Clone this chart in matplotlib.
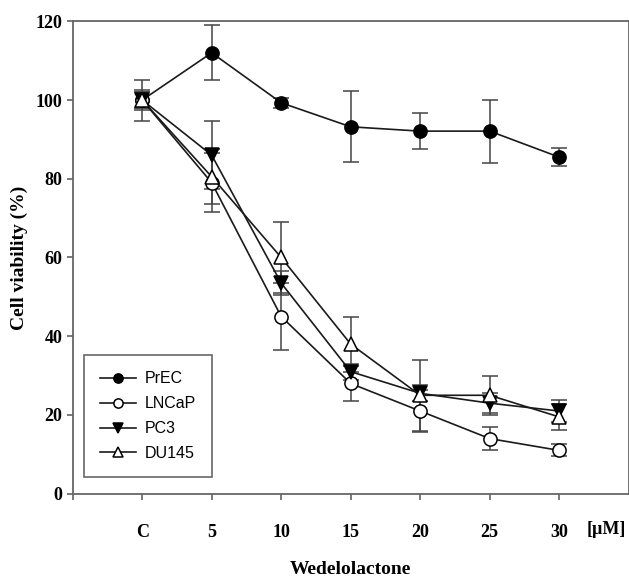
import numpy as np
import matplotlib
matplotlib.use("Agg")
import matplotlib.pyplot as plt
import matplotlib.transforms as mtransforms

# doses (C = control), values in % viability, with +/- error
doses = ["C", "5", "10", "15", "20", "25", "30"]
prec = [100, 112, 99.3, 93.2, 92.1, 92.1, 85.5]
prec_err = [5.2, 7.0, 1.2, 9.0, 4.6, 8.0, 2.3]
lncap = [100, 79, 45, 28, 21, 14, 11]
lncap_err = [2.5, 7.5, 8.5, 4.5, 5.3, 3.0, 1.5]
pc3 = [100, 86, 53.5, 31, 25.5, 23, 21]
pc3_err = [2.0, 8.6, 3.0, 2.0, 2.0, 2.5, 2.7]
du145 = [100, 80.5, 60, 38, 25, 25, 19.5]
du145_err = [2.0, 7.0, 9.0, 7.0, 9.0, 5.0, 3.2]

series = [("PrEC", prec, prec_err, "o", "black"),
          ("LNCaP", lncap, lncap_err, "o", "white"),
          ("PC3", pc3, pc3_err, "v", "black"),
          ("DU145", du145, du145_err, "^", "white")]

serif = ["Liberation Serif", "DejaVu Serif"]
W, H = 629, 578
fig = plt.figure(figsize=(W / 100, H / 100), dpi=100)
ax = fig.add_axes([72.7 / W, 1 - 493.7 / H, 556 / W, 472.4 / H])

x = np.arange(1, len(doses) + 1)
for lab, y, e, m, fc in series:
    ax.errorbar(x, y, yerr=e, fmt="none", ecolor="#444444", elinewidth=1.1,
                capsize=6, capthick=1.1, zorder=2)
    ax.plot(x, y, color="#1a1a1a", lw=1.2, marker=m, ms=9.5, mfc=fc,
            mec="black", mew=1.1, label=lab, zorder=3)

ax.set_xlim(0, 8)
ax.set_ylim(0, 120)
ax.set_xticks(np.arange(0, 8))
ax.set_xticklabels([""] + doses, family=serif, weight="bold", fontsize=13)
ax.set_yticks(np.arange(0, 121, 20))
ax.set_yticklabels([str(v) for v in range(0, 121, 20)], family=serif,
                   weight="bold", fontsize=13)
ax.tick_params(axis="x", direction="out", length=4.5, width=1.1,
               color="#555555", pad=17)
ax.tick_params(axis="y", direction="out", length=4.5, width=1.1,
               color="#555555", pad=3)
ax.tick_params(top=False, right=False)
for s in ax.spines.values():
    s.set_color("#666666")
    s.set_linewidth(1.3)

ax.set_ylabel("Cell viability (%)", family=serif, weight="bold", fontsize=14,
              labelpad=5)
ax.set_xlabel("Wedelolactone", family=serif, weight="bold", fontsize=14,
              va="center")
ax.xaxis.set_label_coords(0.5, (493.7 - 570) / 472.4)

tr = mtransforms.blended_transform_factory(ax.transData, fig.transFigure)
ax.text(7.68, 1 - 530 / H, "[\u00b5M]", transform=tr, ha="center",
        va="center", family=serif, weight="bold", fontsize=13)

leg = ax.legend(loc="lower left", bbox_to_anchor=(11.3 / 556, 16.7 / 472.4),
                borderaxespad=0,
                prop={"family": "Liberation Sans", "size": 11.5},
                markerscale=0.7, handlelength=2.25, handletextpad=0.55,
                labelspacing=0.62, borderpad=1.0, fancybox=False,
                framealpha=1, edgecolor="#666666")
leg.get_frame().set_linewidth(1.2)

fig.savefig("out.png", dpi=100)
